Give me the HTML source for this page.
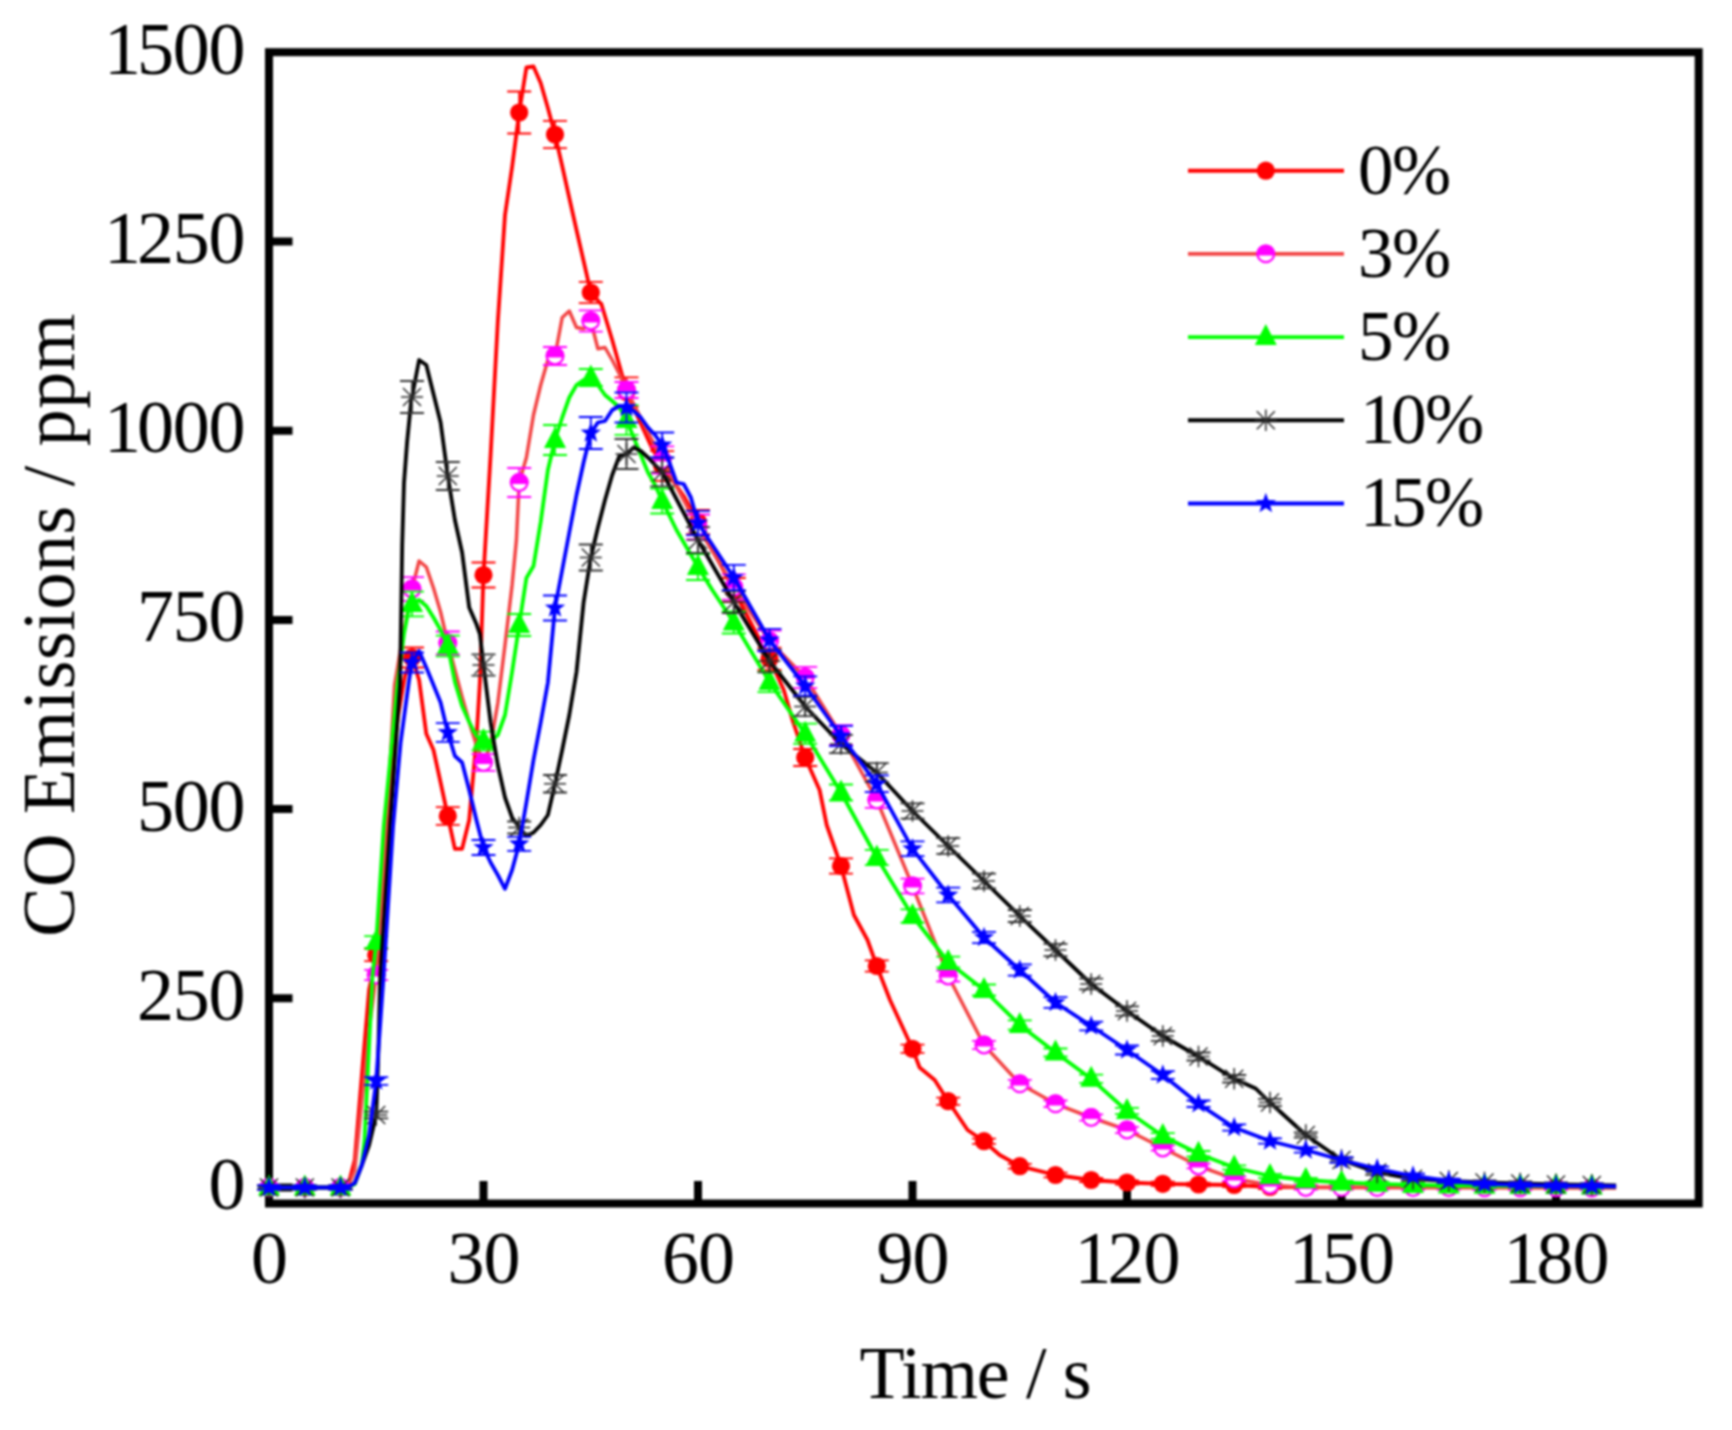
<!DOCTYPE html>
<html lang="en"><head><meta charset="utf-8"><title>CO Emissions vs Time</title>
<style>html,body{margin:0;padding:0;background:#fff}body{width:1732px;height:1430px;overflow:hidden}svg{display:block;filter:blur(1px)}</style>
</head><body>
<svg width="1732" height="1430" viewBox="0 0 1732 1430">
<rect width="1732" height="1430" fill="#fff"/>
<defs>
<circle id="m0" r="9.1" fill="#ff0000"/>
<g id="m1"><circle r="8.3" fill="#fff" stroke="#ff00ff" stroke-width="2.2"/><path d="M-9.25 1.6A9.4 9.4 0 1 1 9.25 1.6Z" fill="#ff00ff"/></g>
<path id="m2" d="M0 -13L11 8H-11Z" fill="#00ff00"/>
<path id="m3" d="M-11 0H11M0 -10.8V10.8M-9 -9L9 9M-9 9L9 -9" stroke="#2a2a2a" stroke-width="1.5" fill="none"/>
<polygon id="m4" points="0.00,-10.80 2.59,-3.56 10.27,-3.34 4.18,1.36 6.35,8.74 0.00,4.40 -6.35,8.74 -4.18,1.36 -10.27,-3.34 -2.59,-3.56" fill="#0000ff"/>
</defs>
<g stroke="#000" stroke-width="8.0" fill="none">
<rect x="269.0" y="52.2" width="1429.7" height="1151.3"/>
<path d="M269.0 1187.5h23.5M269.0 998.3h23.5M269.0 809.1h23.5M269.0 619.9h23.5M269.0 430.7h23.5M269.0 241.5h23.5M483.5 1203.5v-22.5M698.0 1203.5v-22.5M912.5 1203.5v-22.5M1127.0 1203.5v-22.5M1341.5 1203.5v-22.5M1556.0 1203.5v-22.5"/>
</g>
<g>
<polyline points="269.0,1187.5 347.6,1187.5 354.8,1160.0 361.9,1075.0 369.1,990.0 376.2,955.0 383.4,868.0 390.6,785.0 397.7,718.0 404.9,676.0 412.0,657.5 419.1,680.0 426.3,733.8 433.5,750.0 440.6,782.5 447.8,816.0 454.9,848.8 462.1,848.8 469.2,820.0 476.4,740.0 479.9,682.0 483.5,575.0 490.6,455.0 497.8,322.0 505.0,215.0 512.1,167.0 519.2,112.5 526.4,67.5 533.5,66.5 540.7,83.0 547.9,108.0 555.0,134.5 562.2,166.0 569.3,198.0 576.5,230.0 583.6,261.0 590.8,292.5 601.5,304.5 612.2,340.0 622.9,378.0 626.5,392.0 651.5,447.0 662.2,466.0 683.7,496.0 698.0,522.0 733.8,590.0 769.5,658.8 783.8,690.0 793.1,722.0 805.2,757.5 819.6,790.0 826.7,825.0 841.0,866.0 853.9,915.0 867.5,940.0 876.8,966.0 890.0,1000.0 912.5,1048.8 919.6,1067.5 934.7,1080.0 948.2,1101.2 967.6,1130.0 984.0,1141.2 999.7,1155.0 1019.8,1166.2 1055.5,1175.0 1091.2,1180.0 1127.0,1182.5 1162.8,1183.8 1198.5,1184.5 1234.2,1185.0 1270.0,1187.0 1616.1,1187.5" fill="none" stroke="#ff0000" stroke-width="3.8" stroke-linejoin="round"/>
<path d="M269.0 1185.4V1189.6M257.0 1185.4h24M257.0 1189.6h24M304.8 1185.6V1189.4M292.8 1185.6h24M292.8 1189.4h24M340.5 1185.5V1189.5M328.5 1185.5h24M328.5 1189.5h24M376.2 948.9V961.1M364.2 948.9h24M364.2 961.1h24M412.0 647.5V667.5M400.0 647.5h24M400.0 667.5h24M447.8 807.2V824.8M435.8 807.2h24M435.8 824.8h24M483.5 562.5V587.5M471.5 562.5h24M471.5 587.5h24M519.2 91.5V133.5M507.2 91.5h24M507.2 133.5h24M555.0 120.8V148.2M543.0 120.8h24M543.0 148.2h24M590.8 281.9V303.1M578.8 281.9h24M578.8 303.1h24M626.5 377.3V406.7M614.5 377.3h24M614.5 406.7h24M662.2 451.2V480.8M650.2 451.2h24M650.2 480.8h24M698.0 509.8V534.2M686.0 509.8h24M686.0 534.2h24M733.8 578.0V602.0M721.8 578.0h24M721.8 602.0h24M769.5 647.6V669.9M757.5 647.6h24M757.5 669.9h24M805.2 749.0V766.0M793.2 749.0h24M793.2 766.0h24M841.0 858.3V873.7M829.0 858.3h24M829.0 873.7h24M876.8 960.3V971.7M864.8 960.3h24M864.8 971.7h24M912.5 1044.7V1052.8M900.5 1044.7h24M900.5 1052.8h24M948.2 1097.6V1104.9M936.2 1097.6h24M936.2 1104.9h24M984.0 1138.6V1143.9M972.0 1138.6h24M972.0 1143.9h24M1019.8 1163.9V1168.6M1007.8 1163.9h24M1007.8 1168.6h24M1055.5 1172.7V1177.3M1043.5 1172.7h24M1043.5 1177.3h24M1091.2 1178.0V1182.0M1079.2 1178.0h24M1079.2 1182.0h24M1127.0 1180.4V1184.6M1115.0 1180.4h24M1115.0 1184.6h24M1162.8 1181.6V1185.9M1150.8 1181.6h24M1150.8 1185.9h24M1198.5 1182.6V1186.4M1186.5 1182.6h24M1186.5 1186.4h24M1234.2 1182.8V1187.2M1222.2 1182.8h24M1222.2 1187.2h24M1270.0 1185.0V1189.0M1258.0 1185.0h24M1258.0 1189.0h24M1305.8 1185.1V1189.0M1293.8 1185.1h24M1293.8 1189.0h24M1341.5 1185.0V1189.3M1329.5 1185.0h24M1329.5 1189.3h24M1377.2 1185.2V1189.1M1365.2 1185.2h24M1365.2 1189.1h24M1413.0 1185.2V1189.2M1401.0 1185.2h24M1401.0 1189.2h24M1448.8 1185.1V1189.4M1436.8 1185.1h24M1436.8 1189.4h24M1484.5 1185.4V1189.2M1472.5 1185.4h24M1472.5 1189.2h24M1520.2 1185.3V1189.4M1508.2 1185.3h24M1508.2 1189.4h24M1556.0 1185.4V1189.5M1544.0 1185.4h24M1544.0 1189.5h24M1591.8 1185.6V1189.3M1579.8 1185.6h24M1579.8 1189.3h24" stroke="#ff0000" stroke-width="1.8" fill="none"/>
<use href="#m0" x="269.0" y="1187.5"/><use href="#m0" x="304.8" y="1187.5"/><use href="#m0" x="340.5" y="1187.5"/><use href="#m0" x="376.2" y="955.0"/><use href="#m0" x="412.0" y="657.5"/><use href="#m0" x="447.8" y="816.0"/><use href="#m0" x="483.5" y="575.0"/><use href="#m0" x="519.2" y="112.5"/><use href="#m0" x="555.0" y="134.5"/><use href="#m0" x="590.8" y="292.5"/><use href="#m0" x="626.5" y="392.0"/><use href="#m0" x="662.2" y="466.0"/><use href="#m0" x="698.0" y="522.0"/><use href="#m0" x="733.8" y="590.0"/><use href="#m0" x="769.5" y="658.8"/><use href="#m0" x="805.2" y="757.5"/><use href="#m0" x="841.0" y="866.0"/><use href="#m0" x="876.8" y="966.0"/><use href="#m0" x="912.5" y="1048.8"/><use href="#m0" x="948.2" y="1101.2"/><use href="#m0" x="984.0" y="1141.2"/><use href="#m0" x="1019.8" y="1166.2"/><use href="#m0" x="1055.5" y="1175.0"/><use href="#m0" x="1091.2" y="1180.0"/><use href="#m0" x="1127.0" y="1182.5"/><use href="#m0" x="1162.8" y="1183.8"/><use href="#m0" x="1198.5" y="1184.5"/><use href="#m0" x="1234.2" y="1185.0"/><use href="#m0" x="1270.0" y="1187.0"/><use href="#m0" x="1305.8" y="1187.1"/><use href="#m0" x="1341.5" y="1187.1"/><use href="#m0" x="1377.2" y="1187.2"/><use href="#m0" x="1413.0" y="1187.2"/><use href="#m0" x="1448.8" y="1187.3"/><use href="#m0" x="1484.5" y="1187.3"/><use href="#m0" x="1520.2" y="1187.4"/><use href="#m0" x="1556.0" y="1187.4"/><use href="#m0" x="1591.8" y="1187.5"/>
</g>
<g>
<polyline points="269.0,1187.5 347.6,1187.5 354.8,1170.0 361.9,1100.0 369.1,1030.0 376.2,975.0 383.1,887.0 386.9,820.0 394.6,685.0 401.3,645.0 412.0,589.0 419.1,561.0 426.3,567.0 433.5,588.0 440.6,612.0 447.8,643.0 454.9,670.0 462.1,697.0 469.2,722.0 476.4,745.0 483.5,762.5 490.6,745.0 497.8,703.0 505.0,645.0 512.1,585.0 516.4,540.0 519.2,482.5 526.4,457.5 533.5,415.0 540.7,385.0 547.9,360.0 555.0,356.0 562.2,317.5 569.3,311.0 576.5,327.5 583.6,328.8 590.8,321.0 597.9,348.8 605.0,347.5 612.2,360.0 619.4,374.0 626.5,390.0 662.2,460.0 698.0,527.0 733.8,587.0 769.5,641.0 805.2,677.5 841.0,735.0 876.8,800.0 912.5,886.0 948.2,976.0 984.0,1045.0 1019.8,1083.8 1055.5,1103.8 1091.2,1117.5 1127.0,1130.0 1162.8,1148.0 1198.5,1166.0 1234.2,1178.8 1270.0,1185.0 1305.8,1187.5 1616.1,1188.0" fill="none" stroke="#f24444" stroke-width="3.5" stroke-linejoin="round"/>
<path d="M269.0 1185.5V1189.5M257.0 1185.5h24M257.0 1189.5h24M304.8 1185.6V1189.4M292.8 1185.6h24M292.8 1189.4h24M340.5 1185.4V1189.6M328.5 1185.4h24M328.5 1189.6h24M376.2 969.8V980.2M364.2 969.8h24M364.2 980.2h24M412.0 577.1V600.9M400.0 577.1h24M400.0 600.9h24M447.8 631.5V654.5M435.8 631.5h24M435.8 654.5h24M483.5 754.1V770.9M471.5 754.1h24M471.5 770.9h24M519.2 468.0V497.0M507.2 468.0h24M507.2 497.0h24M555.0 347.0V365.0M543.0 347.0h24M543.0 365.0h24M590.8 310.4V331.6M578.8 310.4h24M578.8 331.6h24M626.5 382.0V398.0M614.5 382.0h24M614.5 398.0h24M662.2 446.4V473.6M650.2 446.4h24M650.2 473.6h24M698.0 514.5V539.5M686.0 514.5h24M686.0 539.5h24M733.8 574.3V599.7M721.8 574.3h24M721.8 599.7h24M769.5 630.6V651.4M757.5 630.6h24M757.5 651.4h24M805.2 666.9V688.1M793.2 666.9h24M793.2 688.1h24M841.0 725.1V744.9M829.0 725.1h24M829.0 744.9h24M876.8 792.2V807.8M864.8 792.2h24M864.8 807.8h24M912.5 878.7V893.3M900.5 878.7h24M900.5 893.3h24M948.2 970.5V981.5M936.2 970.5h24M936.2 981.5h24M984.0 1040.9V1049.1M972.0 1040.9h24M972.0 1049.1h24M1019.8 1079.8V1087.7M1007.8 1079.8h24M1007.8 1087.7h24M1055.5 1100.5V1107.0M1043.5 1100.5h24M1043.5 1107.0h24M1091.2 1114.4V1120.6M1079.2 1114.4h24M1079.2 1120.6h24M1127.0 1126.9V1133.1M1115.0 1126.9h24M1115.0 1133.1h24M1162.8 1145.5V1150.5M1150.8 1145.5h24M1150.8 1150.5h24M1198.5 1163.6V1168.4M1186.5 1163.6h24M1186.5 1168.4h24M1234.2 1176.5V1181.0M1222.2 1176.5h24M1222.2 1181.0h24M1270.0 1183.1V1186.9M1258.0 1183.1h24M1258.0 1186.9h24M1305.8 1185.4V1189.6M1293.8 1185.4h24M1293.8 1189.6h24M1341.5 1185.6V1189.5M1329.5 1185.6h24M1329.5 1189.5h24M1377.2 1185.7V1189.5M1365.2 1185.7h24M1365.2 1189.5h24M1413.0 1185.5V1189.8M1401.0 1185.5h24M1401.0 1189.8h24M1448.8 1185.8V1189.6M1436.8 1185.8h24M1436.8 1189.6h24M1484.5 1185.8V1189.8M1472.5 1185.8h24M1472.5 1189.8h24M1520.2 1185.7V1190.0M1508.2 1185.7h24M1508.2 1190.0h24M1556.0 1186.0V1189.8M1544.0 1186.0h24M1544.0 1189.8h24M1591.8 1185.9V1190.0M1579.8 1185.9h24M1579.8 1190.0h24" stroke="#ff00ff" stroke-width="1.8" fill="none"/>
<use href="#m1" x="269.0" y="1187.5"/><use href="#m1" x="304.8" y="1187.5"/><use href="#m1" x="340.5" y="1187.5"/><use href="#m1" x="376.2" y="975.0"/><use href="#m1" x="412.0" y="589.0"/><use href="#m1" x="447.8" y="643.0"/><use href="#m1" x="483.5" y="762.5"/><use href="#m1" x="519.2" y="482.5"/><use href="#m1" x="555.0" y="356.0"/><use href="#m1" x="590.8" y="321.0"/><use href="#m1" x="626.5" y="390.0"/><use href="#m1" x="662.2" y="460.0"/><use href="#m1" x="698.0" y="527.0"/><use href="#m1" x="733.8" y="587.0"/><use href="#m1" x="769.5" y="641.0"/><use href="#m1" x="805.2" y="677.5"/><use href="#m1" x="841.0" y="735.0"/><use href="#m1" x="876.8" y="800.0"/><use href="#m1" x="912.5" y="886.0"/><use href="#m1" x="948.2" y="976.0"/><use href="#m1" x="984.0" y="1045.0"/><use href="#m1" x="1019.8" y="1083.8"/><use href="#m1" x="1055.5" y="1103.8"/><use href="#m1" x="1091.2" y="1117.5"/><use href="#m1" x="1127.0" y="1130.0"/><use href="#m1" x="1162.8" y="1148.0"/><use href="#m1" x="1198.5" y="1166.0"/><use href="#m1" x="1234.2" y="1178.8"/><use href="#m1" x="1270.0" y="1185.0"/><use href="#m1" x="1305.8" y="1187.5"/><use href="#m1" x="1341.5" y="1187.6"/><use href="#m1" x="1377.2" y="1187.6"/><use href="#m1" x="1413.0" y="1187.7"/><use href="#m1" x="1448.8" y="1187.7"/><use href="#m1" x="1484.5" y="1187.8"/><use href="#m1" x="1520.2" y="1187.8"/><use href="#m1" x="1556.0" y="1187.9"/><use href="#m1" x="1591.8" y="1188.0"/>
</g>
<g>
<polyline points="269.0,1187.5 347.6,1187.5 354.8,1184.0 361.9,1164.0 364.5,1140.0 372.4,977.0 376.2,942.0 383.8,826.0 397.5,685.0 404.0,634.0 408.0,613.0 412.0,604.0 419.1,600.0 426.3,606.0 433.5,617.5 440.6,630.0 447.8,646.0 454.9,682.0 462.1,706.0 469.2,722.0 476.4,736.0 483.5,741.0 490.6,741.0 497.8,735.0 505.0,715.0 512.1,672.0 519.2,625.0 526.4,578.0 533.5,566.0 540.7,522.0 547.9,470.0 555.0,440.0 562.2,417.5 569.3,397.5 576.5,385.0 583.6,380.0 590.8,377.5 597.9,385.0 605.0,395.0 612.2,401.0 619.4,407.5 626.5,420.0 633.7,437.5 640.8,455.0 648.0,472.5 655.1,485.0 662.2,501.0 676.5,530.0 698.0,567.0 712.3,590.0 733.8,622.5 769.5,682.0 805.2,733.8 841.0,792.5 876.8,857.5 912.5,916.0 948.2,962.0 984.0,990.0 1019.8,1025.0 1055.5,1052.5 1091.2,1078.8 1127.0,1111.0 1162.8,1136.0 1198.5,1153.8 1234.2,1167.5 1270.0,1176.0 1305.8,1180.0 1341.5,1182.5 1377.2,1183.8 1413.0,1185.0 1448.8,1185.5 1616.1,1186.5" fill="none" stroke="#00ff00" stroke-width="3.8" stroke-linejoin="round"/>
<path d="M269.0 1185.6V1189.4M257.0 1185.6h24M257.0 1189.4h24M304.8 1185.4V1189.6M292.8 1185.4h24M292.8 1189.6h24M340.5 1185.5V1189.5M328.5 1185.5h24M328.5 1189.5h24M376.2 936.2V947.8M364.2 936.2h24M364.2 947.8h24M412.0 591.6V616.4M400.0 591.6h24M400.0 616.4h24M447.8 635.7V656.3M435.8 635.7h24M435.8 656.3h24M483.5 731.6V750.4M471.5 731.6h24M471.5 750.4h24M519.2 614.0V636.0M507.2 614.0h24M507.2 636.0h24M555.0 425.0V455.0M543.0 425.0h24M543.0 455.0h24M590.8 369.0V386.0M578.8 369.0h24M578.8 386.0h24M626.5 405.1V434.9M614.5 405.1h24M614.5 434.9h24M662.2 488.5V513.5M650.2 488.5h24M650.2 513.5h24M698.0 554.0V580.0M686.0 554.0h24M686.0 580.0h24M733.8 611.5V633.5M721.8 611.5h24M721.8 633.5h24M769.5 671.9V692.1M757.5 671.9h24M757.5 692.1h24M805.2 723.6V743.9M793.2 723.6h24M793.2 743.9h24M841.0 784.5V800.5M829.0 784.5h24M829.0 800.5h24M876.8 849.9V865.1M864.8 849.9h24M864.8 865.1h24M912.5 909.3V922.7M900.5 909.3h24M900.5 922.7h24M948.2 956.7V967.3M936.2 956.7h24M936.2 967.3h24M984.0 984.5V995.5M972.0 984.5h24M972.0 995.5h24M1019.8 1020.3V1029.7M1007.8 1020.3h24M1007.8 1029.7h24M1055.5 1048.5V1056.5M1043.5 1048.5h24M1043.5 1056.5h24M1091.2 1074.7V1082.8M1079.2 1074.7h24M1079.2 1082.8h24M1127.0 1107.9V1114.1M1115.0 1107.9h24M1115.0 1114.1h24M1162.8 1133.2V1138.8M1150.8 1133.2h24M1150.8 1138.8h24M1198.5 1151.0V1156.5M1186.5 1151.0h24M1186.5 1156.5h24M1234.2 1165.3V1169.7M1222.2 1165.3h24M1222.2 1169.7h24M1270.0 1173.8V1178.2M1258.0 1173.8h24M1258.0 1178.2h24M1305.8 1177.8V1182.2M1293.8 1177.8h24M1293.8 1182.2h24M1341.5 1180.6V1184.4M1329.5 1180.6h24M1329.5 1184.4h24M1377.2 1181.6V1185.9M1365.2 1181.6h24M1365.2 1185.9h24M1413.0 1183.0V1187.0M1401.0 1183.0h24M1401.0 1187.0h24M1448.8 1183.6V1187.4M1436.8 1183.6h24M1436.8 1187.4h24M1484.5 1183.5V1187.9M1472.5 1183.5h24M1472.5 1187.9h24M1520.2 1184.0V1187.9M1508.2 1184.0h24M1508.2 1187.9h24M1556.0 1184.1V1188.2M1544.0 1184.1h24M1544.0 1188.2h24M1591.8 1184.2V1188.5M1579.8 1184.2h24M1579.8 1188.5h24" stroke="#00ff00" stroke-width="1.8" fill="none"/>
<use href="#m2" x="269.0" y="1187.5"/><use href="#m2" x="304.8" y="1187.5"/><use href="#m2" x="340.5" y="1187.5"/><use href="#m2" x="376.2" y="942.0"/><use href="#m2" x="412.0" y="604.0"/><use href="#m2" x="447.8" y="646.0"/><use href="#m2" x="483.5" y="741.0"/><use href="#m2" x="519.2" y="625.0"/><use href="#m2" x="555.0" y="440.0"/><use href="#m2" x="590.8" y="377.5"/><use href="#m2" x="626.5" y="420.0"/><use href="#m2" x="662.2" y="501.0"/><use href="#m2" x="698.0" y="567.0"/><use href="#m2" x="733.8" y="622.5"/><use href="#m2" x="769.5" y="682.0"/><use href="#m2" x="805.2" y="733.8"/><use href="#m2" x="841.0" y="792.5"/><use href="#m2" x="876.8" y="857.5"/><use href="#m2" x="912.5" y="916.0"/><use href="#m2" x="948.2" y="962.0"/><use href="#m2" x="984.0" y="990.0"/><use href="#m2" x="1019.8" y="1025.0"/><use href="#m2" x="1055.5" y="1052.5"/><use href="#m2" x="1091.2" y="1078.8"/><use href="#m2" x="1127.0" y="1111.0"/><use href="#m2" x="1162.8" y="1136.0"/><use href="#m2" x="1198.5" y="1153.8"/><use href="#m2" x="1234.2" y="1167.5"/><use href="#m2" x="1270.0" y="1176.0"/><use href="#m2" x="1305.8" y="1180.0"/><use href="#m2" x="1341.5" y="1182.5"/><use href="#m2" x="1377.2" y="1183.8"/><use href="#m2" x="1413.0" y="1185.0"/><use href="#m2" x="1448.8" y="1185.5"/><use href="#m2" x="1484.5" y="1185.7"/><use href="#m2" x="1520.2" y="1185.9"/><use href="#m2" x="1556.0" y="1186.1"/><use href="#m2" x="1591.8" y="1186.4"/>
</g>
<g>
<polyline points="269.0,1187.5 347.6,1187.5 354.8,1183.0 361.9,1165.0 369.1,1145.0 376.2,1115.0 378.0,1065.0 380.2,977.0 390.0,825.0 400.0,685.0 402.2,545.0 404.0,483.0 407.1,442.0 411.3,400.0 412.0,397.0 419.1,360.0 426.3,365.0 433.5,394.0 440.6,422.5 447.8,476.0 454.9,520.0 462.1,552.5 469.2,607.5 476.4,624.0 479.9,634.0 483.5,665.0 490.6,722.5 497.8,765.0 505.0,797.5 512.1,817.5 519.2,827.5 526.4,836.0 533.5,832.5 540.7,825.0 547.9,815.0 555.0,783.8 562.2,750.0 569.3,715.0 576.5,672.0 583.6,602.5 590.8,557.5 597.9,527.5 605.0,500.0 612.2,475.0 619.4,456.0 626.5,454.0 633.7,447.5 640.8,451.0 648.0,457.5 655.1,465.0 662.2,472.0 698.0,540.0 733.8,602.0 769.5,661.0 805.2,706.5 841.0,744.0 876.8,772.5 912.5,811.0 948.2,846.0 984.0,881.0 1019.8,916.0 1055.5,950.0 1091.2,984.0 1127.0,1011.0 1162.8,1036.0 1198.5,1056.5 1234.2,1078.8 1255.7,1088.5 1270.0,1102.5 1305.8,1135.0 1341.5,1160.0 1377.2,1172.5 1413.0,1178.8 1448.8,1181.0 1484.5,1182.5 1520.2,1183.5 1556.0,1184.5 1591.8,1185.0 1616.1,1185.5" fill="none" stroke="#000000" stroke-width="3.8" stroke-linejoin="round"/>
<path d="M269.0 1185.4V1189.6M257.0 1185.4h24M257.0 1189.6h24M304.8 1185.5V1189.5M292.8 1185.5h24M292.8 1189.5h24M340.5 1185.6V1189.4M328.5 1185.6h24M328.5 1189.4h24M376.2 1111.6V1118.4M364.2 1111.6h24M364.2 1118.4h24M412.0 381.0V413.0M400.0 381.0h24M400.0 413.0h24M447.8 462.0V490.0M435.8 462.0h24M435.8 490.0h24M483.5 654.4V675.6M471.5 654.4h24M471.5 675.6h24M519.2 821.5V833.5M507.2 821.5h24M507.2 833.5h24M555.0 775.0V792.5M543.0 775.0h24M543.0 792.5h24M590.8 544.5V570.5M578.8 544.5h24M578.8 570.5h24M626.5 439.0V469.0M614.5 439.0h24M614.5 469.0h24M662.2 457.6V486.4M650.2 457.6h24M650.2 486.4h24M698.0 527.2V552.8M686.0 527.2h24M686.0 552.8h24M733.8 591.0V613.0M721.8 591.0h24M721.8 613.0h24M769.5 649.6V672.4M757.5 649.6h24M757.5 672.4h24M805.2 696.9V716.1M793.2 696.9h24M793.2 716.1h24M841.0 734.9V753.1M829.0 734.9h24M829.0 753.1h24M876.8 763.1V781.9M864.8 763.1h24M864.8 781.9h24M912.5 803.3V818.7M900.5 803.3h24M900.5 818.7h24M948.2 838.2V853.8M936.2 838.2h24M936.2 853.8h24M984.0 873.7V888.3M972.0 873.7h24M972.0 888.3h24M1019.8 910.0V922.0M1007.8 910.0h24M1007.8 922.0h24M1055.5 943.8V956.2M1043.5 943.8h24M1043.5 956.2h24M1091.2 978.6V989.4M1079.2 978.6h24M1079.2 989.4h24M1127.0 1006.3V1015.7M1115.0 1006.3h24M1115.0 1015.7h24M1162.8 1031.2V1040.8M1150.8 1031.2h24M1150.8 1040.8h24M1198.5 1052.5V1060.5M1186.5 1052.5h24M1186.5 1060.5h24M1234.2 1075.0V1082.5M1222.2 1075.0h24M1222.2 1082.5h24M1270.0 1098.9V1106.1M1258.0 1098.9h24M1258.0 1106.1h24M1305.8 1132.3V1137.7M1293.8 1132.3h24M1293.8 1137.7h24M1341.5 1157.5V1162.5M1329.5 1157.5h24M1329.5 1162.5h24M1377.2 1170.2V1174.8M1365.2 1170.2h24M1365.2 1174.8h24M1413.0 1176.7V1180.8M1401.0 1176.7h24M1401.0 1180.8h24M1448.8 1178.8V1183.2M1436.8 1178.8h24M1436.8 1183.2h24M1484.5 1180.4V1184.6M1472.5 1180.4h24M1472.5 1184.6h24M1520.2 1181.5V1185.5M1508.2 1181.5h24M1508.2 1185.5h24M1556.0 1182.3V1186.7M1544.0 1182.3h24M1544.0 1186.7h24M1591.8 1183.1V1186.9M1579.8 1183.1h24M1579.8 1186.9h24" stroke="#333" stroke-width="1.8" fill="none"/>
<use href="#m3" x="269.0" y="1187.5"/><use href="#m3" x="304.8" y="1187.5"/><use href="#m3" x="340.5" y="1187.5"/><use href="#m3" x="376.2" y="1115.0"/><use href="#m3" x="412.0" y="397.0"/><use href="#m3" x="447.8" y="476.0"/><use href="#m3" x="483.5" y="665.0"/><use href="#m3" x="519.2" y="827.5"/><use href="#m3" x="555.0" y="783.8"/><use href="#m3" x="590.8" y="557.5"/><use href="#m3" x="626.5" y="454.0"/><use href="#m3" x="662.2" y="472.0"/><use href="#m3" x="698.0" y="540.0"/><use href="#m3" x="733.8" y="602.0"/><use href="#m3" x="769.5" y="661.0"/><use href="#m3" x="805.2" y="706.5"/><use href="#m3" x="841.0" y="744.0"/><use href="#m3" x="876.8" y="772.5"/><use href="#m3" x="912.5" y="811.0"/><use href="#m3" x="948.2" y="846.0"/><use href="#m3" x="984.0" y="881.0"/><use href="#m3" x="1019.8" y="916.0"/><use href="#m3" x="1055.5" y="950.0"/><use href="#m3" x="1091.2" y="984.0"/><use href="#m3" x="1127.0" y="1011.0"/><use href="#m3" x="1162.8" y="1036.0"/><use href="#m3" x="1198.5" y="1056.5"/><use href="#m3" x="1234.2" y="1078.8"/><use href="#m3" x="1270.0" y="1102.5"/><use href="#m3" x="1305.8" y="1135.0"/><use href="#m3" x="1341.5" y="1160.0"/><use href="#m3" x="1377.2" y="1172.5"/><use href="#m3" x="1413.0" y="1178.8"/><use href="#m3" x="1448.8" y="1181.0"/><use href="#m3" x="1484.5" y="1182.5"/><use href="#m3" x="1520.2" y="1183.5"/><use href="#m3" x="1556.0" y="1184.5"/><use href="#m3" x="1591.8" y="1185.0"/>
</g>
<g>
<polyline points="269.0,1187.5 347.6,1187.5 354.8,1183.0 361.9,1165.0 369.1,1135.0 376.2,1081.0 383.5,977.0 393.1,826.0 400.6,742.5 409.1,680.0 412.0,662.5 419.1,651.0 426.3,667.5 433.5,685.0 440.6,702.5 447.8,732.5 454.9,756.0 462.1,762.5 469.2,790.0 476.4,820.0 483.5,847.5 490.6,862.5 497.8,875.0 505.0,888.8 512.1,870.0 519.2,843.8 526.4,802.5 533.5,760.0 540.7,722.5 547.9,682.5 555.0,608.0 562.2,570.0 569.3,532.5 576.5,495.0 583.6,462.5 590.8,433.0 597.9,422.5 605.0,421.0 612.2,410.0 619.4,406.0 626.5,407.5 633.7,411.0 640.8,417.5 648.0,427.5 655.1,435.0 662.2,445.0 669.4,462.5 676.5,482.5 683.7,484.0 690.9,497.5 698.0,523.0 733.8,577.5 769.5,640.0 805.2,686.0 841.0,736.0 876.8,783.8 912.5,848.8 948.2,895.0 984.0,937.5 1019.8,970.0 1055.5,1002.5 1091.2,1026.0 1127.0,1050.0 1162.8,1075.0 1198.5,1103.8 1234.2,1127.5 1270.0,1141.0 1305.8,1150.0 1341.5,1160.0 1377.2,1168.8 1413.0,1176.0 1448.8,1181.0 1484.5,1183.8 1520.2,1185.0 1556.0,1185.8 1591.8,1186.0 1616.1,1186.5" fill="none" stroke="#0000ff" stroke-width="3.8" stroke-linejoin="round"/>
<path d="M269.0 1185.4V1189.6M257.0 1185.4h24M257.0 1189.6h24M304.8 1185.6V1189.4M292.8 1185.6h24M292.8 1189.4h24M340.5 1185.4V1189.6M328.5 1185.4h24M328.5 1189.6h24M376.2 1077.2V1084.8M364.2 1077.2h24M364.2 1084.8h24M412.0 652.5V672.5M400.0 652.5h24M400.0 672.5h24M447.8 723.1V741.9M435.8 723.1h24M435.8 741.9h24M483.5 840.0V855.0M471.5 840.0h24M471.5 855.0h24M519.2 836.8V850.8M507.2 836.8h24M507.2 850.8h24M555.0 595.5V620.5M543.0 595.5h24M543.0 620.5h24M590.8 417.0V449.0M578.8 417.0h24M578.8 449.0h24M626.5 392.5V422.5M614.5 392.5h24M614.5 422.5h24M662.2 432.5V457.5M650.2 432.5h24M650.2 457.5h24M698.0 510.9V535.1M686.0 510.9h24M686.0 535.1h24M733.8 564.9V590.1M721.8 564.9h24M721.8 590.1h24M769.5 628.8V651.2M757.5 628.8h24M757.5 651.2h24M805.2 676.3V695.7M793.2 676.3h24M793.2 695.7h24M841.0 725.9V746.1M829.0 725.9h24M829.0 746.1h24M876.8 775.4V792.1M864.8 775.4h24M864.8 792.1h24M912.5 841.3V856.2M900.5 841.3h24M900.5 856.2h24M948.2 887.7V902.3M936.2 887.7h24M936.2 902.3h24M984.0 931.8V943.2M972.0 931.8h24M972.0 943.2h24M1019.8 964.3V975.7M1007.8 964.3h24M1007.8 975.7h24M1055.5 997.2V1007.8M1043.5 997.2h24M1043.5 1007.8h24M1091.2 1021.7V1030.3M1079.2 1021.7h24M1079.2 1030.3h24M1127.0 1045.5V1054.5M1115.0 1045.5h24M1115.0 1054.5h24M1162.8 1071.1V1078.9M1150.8 1071.1h24M1150.8 1078.9h24M1198.5 1100.5V1107.0M1186.5 1100.5h24M1186.5 1107.0h24M1234.2 1124.3V1130.7M1222.2 1124.3h24M1222.2 1130.7h24M1270.0 1138.3V1143.7M1258.0 1138.3h24M1258.0 1143.7h24M1305.8 1147.4V1152.6M1293.8 1147.4h24M1293.8 1152.6h24M1341.5 1157.4V1162.6M1329.5 1157.4h24M1329.5 1162.6h24M1377.2 1166.6V1170.9M1365.2 1166.6h24M1365.2 1170.9h24M1413.0 1173.7V1178.3M1401.0 1173.7h24M1401.0 1178.3h24M1448.8 1178.8V1183.2M1436.8 1178.8h24M1436.8 1183.2h24M1484.5 1181.8V1185.7M1472.5 1181.8h24M1472.5 1185.7h24M1520.2 1182.8V1187.2M1508.2 1182.8h24M1508.2 1187.2h24M1556.0 1183.7V1187.8M1544.0 1183.7h24M1544.0 1187.8h24M1591.8 1184.1V1187.9M1579.8 1184.1h24M1579.8 1187.9h24" stroke="#0000ff" stroke-width="1.8" fill="none"/>
<use href="#m4" x="269.0" y="1187.5"/><use href="#m4" x="304.8" y="1187.5"/><use href="#m4" x="340.5" y="1187.5"/><use href="#m4" x="376.2" y="1081.0"/><use href="#m4" x="412.0" y="662.5"/><use href="#m4" x="447.8" y="732.5"/><use href="#m4" x="483.5" y="847.5"/><use href="#m4" x="519.2" y="843.8"/><use href="#m4" x="555.0" y="608.0"/><use href="#m4" x="590.8" y="433.0"/><use href="#m4" x="626.5" y="407.5"/><use href="#m4" x="662.2" y="445.0"/><use href="#m4" x="698.0" y="523.0"/><use href="#m4" x="733.8" y="577.5"/><use href="#m4" x="769.5" y="640.0"/><use href="#m4" x="805.2" y="686.0"/><use href="#m4" x="841.0" y="736.0"/><use href="#m4" x="876.8" y="783.8"/><use href="#m4" x="912.5" y="848.8"/><use href="#m4" x="948.2" y="895.0"/><use href="#m4" x="984.0" y="937.5"/><use href="#m4" x="1019.8" y="970.0"/><use href="#m4" x="1055.5" y="1002.5"/><use href="#m4" x="1091.2" y="1026.0"/><use href="#m4" x="1127.0" y="1050.0"/><use href="#m4" x="1162.8" y="1075.0"/><use href="#m4" x="1198.5" y="1103.8"/><use href="#m4" x="1234.2" y="1127.5"/><use href="#m4" x="1270.0" y="1141.0"/><use href="#m4" x="1305.8" y="1150.0"/><use href="#m4" x="1341.5" y="1160.0"/><use href="#m4" x="1377.2" y="1168.8"/><use href="#m4" x="1413.0" y="1176.0"/><use href="#m4" x="1448.8" y="1181.0"/><use href="#m4" x="1484.5" y="1183.8"/><use href="#m4" x="1520.2" y="1185.0"/><use href="#m4" x="1556.0" y="1185.8"/><use href="#m4" x="1591.8" y="1186.0"/>
</g>
<path d="M1188 170.7H1344" stroke="#ff0000" stroke-width="3.9"/>
<use href="#m0" x="1265.8" y="170.7"/>
<path d="M1188 253.9H1344" stroke="#f24444" stroke-width="3.6"/>
<use href="#m1" x="1265.8" y="253.9"/>
<path d="M1188 337.1H1344" stroke="#00ff00" stroke-width="3.9"/>
<use href="#m2" x="1265.8" y="337.1"/>
<path d="M1188 420.3H1344" stroke="#000000" stroke-width="3.9"/>
<use href="#m3" x="1265.8" y="420.3"/>
<path d="M1188 503.5H1344" stroke="#0000ff" stroke-width="3.9"/>
<use href="#m4" x="1265.8" y="503.5"/>
<g font-family="'Liberation Serif', serif" fill="#000">
<g font-size="71" text-anchor="start" letter-spacing="-1.5">
<text x="1358" y="194.0">0%</text>
<text x="1358" y="277.0">3%</text>
<text x="1358" y="360.0">5%</text>
<text x="1360" y="443.0" dx="0 -3 0">10%</text>
<text x="1360" y="526.0" dx="0 -3 0">15%</text>
</g>
<g font-size="74" text-anchor="end">
<text x="245.5" y="1209.0" dx="0">0</text>
<text x="245.5" y="1019.8" dx="0 -1.2 -1.2">250</text>
<text x="245.5" y="830.6" dx="0 -1.2 -1.2">500</text>
<text x="245.5" y="641.4" dx="0 -1.2 -1.2">750</text>
<text x="245.5" y="452.2" dx="0 -4 -1.2 -1.2">1000</text>
<text x="245.5" y="263.0" dx="0 -4 -1.2 -1.2">1250</text>
<text x="245.5" y="73.8" dx="0 -4 -1.2 -1.2">1500</text>
</g>
<g font-size="74" text-anchor="middle">
<text x="269.5" y="1283" dx="0">0</text>
<text x="484.0" y="1283" dx="0 -1.2">30</text>
<text x="698.5" y="1283" dx="0 -1.2">60</text>
<text x="913.0" y="1283" dx="0 -1.2">90</text>
<text x="1127.5" y="1283" dx="0 -4 -1.2">120</text>
<text x="1342.0" y="1283" dx="0 -4 -1.2">150</text>
<text x="1556.5" y="1283" dx="0 -4 -1.2">180</text>
<text x="975" y="1398" font-size="74" letter-spacing="-1.1">Time / s</text>
<text transform="translate(73.5 625) rotate(-90)" font-size="74" letter-spacing="0.5">CO Emissions / ppm</text>
</g>
</g>
</svg>
</body></html>
